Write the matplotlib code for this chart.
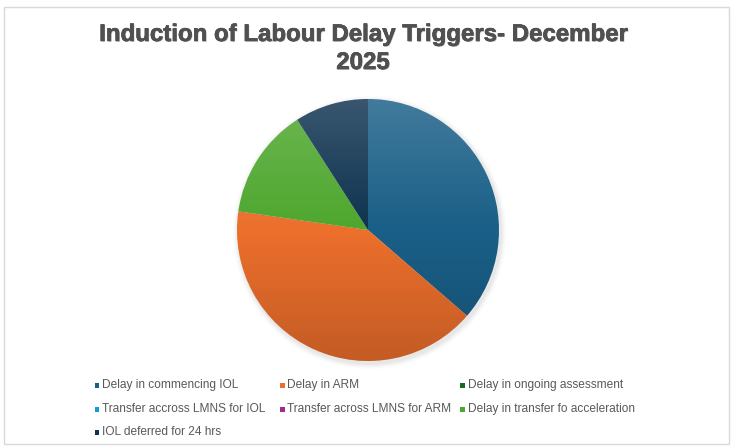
import numpy as np
import matplotlib
matplotlib.use('Agg')
import matplotlib.pyplot as plt
import matplotlib.patheffects as pe
from matplotlib.patches import Rectangle, Circle

W, H = 731, 446

title = 'Induction of Labour Delay Triggers- December\n2025'
labels = ['Delay in commencing IOL', 'Delay in ARM', 'Delay in ongoing assessment',
          'Transfer accross LMNS for IOL', 'Transfer across LMNS for ARM',
          'Delay in transfer fo acceleration', 'IOL deferred for 24 hrs']
counts = [8, 9, 0, 0, 0, 3, 2]
colors = ['#1a5f87', '#ec6f2c', '#196b24', '#0f9ed5', '#a02b93', '#4ea72e', '#0f3350']

# legend grid (pixel positions of the square markers), 3 columns
leg_cols = [97, 282, 463]
leg_rows = [385, 409, 432]

plt.rcParams['font.family'] = ['Liberation Sans', 'DejaVu Sans']

fig = plt.figure(figsize=(W / 100, H / 100), dpi=100)
fig.patch.set_facecolor('white')

# chart frame
fig.add_artist(Rectangle((4 / W, 1 - 444 / H), 725 / W, 437 / H, transform=fig.transFigure,
                         facecolor='none', edgecolor='#d9d9d9', lw=1))

fig.text(363 / W, 1 - 48.5 / H, title, ha='center', va='center', fontsize=17.3,
         fontweight='bold', color='#505050', linespacing=1.28,
         path_effects=[pe.withSimplePatchShadow(offset=(0.6, -0.6), shadow_rgbFace='#9a9a9a', alpha=0.6),
                       pe.withStroke(linewidth=0.4, foreground='#505050')])

# pie
cx, cy, r = 368, 230, 131
pad = 1.06
ax = fig.add_axes([(cx - r * pad) / W, 1 - (cy + r * pad) / H, 2 * r * pad / W, 2 * r * pad / H])
ax.axis('off')

# soft shadow
for i, a in enumerate(np.linspace(0.06, 0.015, 5)):
    ax.add_patch(Circle((0.012, -0.018), 1 + 0.009 * (i + 1), color='#7f7f7f', alpha=a, lw=0, zorder=0))

wedges, _ = ax.pie(counts, colors=colors, startangle=90, counterclock=False,
                   radius=1, wedgeprops=dict(linewidth=0))
for w in wedges:
    w.set_zorder(1)

# top-to-bottom lighting over the pie
grad = np.linspace(1, 0, 256)
rgba = np.zeros((256, 1, 4))
rgba[:, 0, :3] = np.where(grad > 0.5, 1.0, 0.0)[:, None]
rgba[:, 0, 3] = np.abs(grad - 0.5) * 0.35
im = ax.imshow(rgba, extent=(-1, 1, -1, 1), aspect='auto', zorder=2, interpolation='bilinear')
im.set_clip_path(Circle((0, 0), 1, transform=ax.transData))
ax.set_xlim(-pad, pad)
ax.set_ylim(-pad, pad)

# legend
for i, (lab, col) in enumerate(zip(labels, colors)):
    px, py = leg_cols[i % 3], leg_rows[i // 3]
    fig.add_artist(Rectangle(((px - 2.5) / W, 1 - (py + 2.5) / H), 5 / W, 5 / H,
                             transform=fig.transFigure, facecolor=col, edgecolor='none'))
    fig.text((px + 5) / W, 1 - py / H, lab, ha='left', va='center', fontsize=8.6, color='#595959')

fig.savefig('out.png', dpi=100)
